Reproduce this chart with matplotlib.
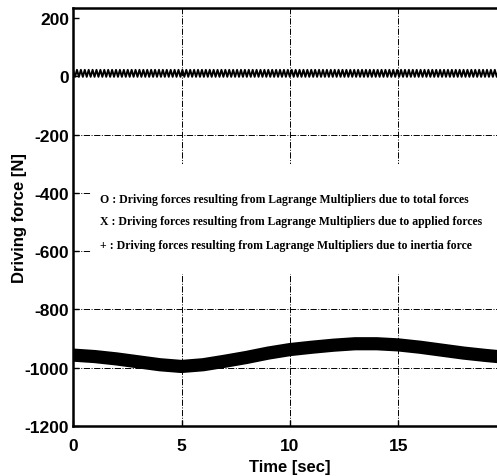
import numpy as np
import matplotlib
matplotlib.use("Agg")
import matplotlib.pyplot as plt
from matplotlib.patches import Rectangle

plt.rcParams["axes.unicode_minus"] = False

# data
time_s = [0, 1, 2, 3, 4, 5, 6, 7, 8, 9, 10, 11, 12, 13, 14, 15, 16, 17, 18, 19, 20]
force_total = [-957, -962, -970, -980, -990, -996, -990, -978, -965, -950, -938,
               -930, -923, -918, -918, -922, -930, -940, -950, -958, -965]

# small ripple around zero (peak / trough of each half period)
ripple_hi = 22
ripple_lo = -2
ripple_step = 0.09

x_ticks = [0, 5, 10, 15]
y_ticks = [200, 0, -200, -400, -600, -800, -1000, -1200]
grid_x = [5, 10, 15]
grid_y = [-200, -400, -600, -800, -1000]

legend_lines = [
    "O : Driving forces resulting from Lagrange Multipliers due to total forces",
    "X : Driving forces resulting from Lagrange Multipliers due to applied forces",
    "+ : Driving forces resulting from Lagrange Multipliers due to inertia force",
]
legend_y = [-420, -498, -580]


def main():
    fig = plt.figure(figsize=(4.97, 4.77), dpi=100)
    ax = fig.add_axes([0.147, 0.105, 0.873, 0.876])

    for g in grid_x:
        ax.axvline(g, color="black", lw=0.7, ls="-.", zorder=1)
    for g in grid_y:
        ax.axhline(g, color="black", lw=0.7, ls="-.", zorder=1)

    # white area behind the notes hides the grid there
    ax.add_patch(Rectangle((0.85, -680), 20, 380, facecolor="white",
                           edgecolor="none", zorder=2))

    t_r = np.arange(0, 20 + ripple_step, ripple_step)
    vals = np.resize([ripple_hi, ripple_lo], len(t_r))
    ax.plot(t_r, vals, color="black", lw=1.4, zorder=3)

    ax.plot(time_s, force_total, color="black", lw=9.5,
            solid_capstyle="butt", zorder=3)

    for txt, yy in zip(legend_lines, legend_y):
        ax.text(1.25, yy, txt, fontsize=8.5, fontweight="bold",
                family="Liberation Serif", va="center", ha="left", zorder=4)

    ax.set_xlim(0, 20)
    ax.set_ylim(-1200, 234)
    ax.set_xticks(x_ticks)
    ax.set_yticks(y_ticks)
    ax.tick_params(direction="in", length=4, width=1, labelsize=12.5)
    ax.tick_params(axis="x", pad=9)
    ax.tick_params(axis="y", pad=3)
    for lab in ax.get_xticklabels() + ax.get_yticklabels():
        lab.set_fontweight("bold")
        lab.set_family("Liberation Sans")
    ax.set_xlabel("Time [sec]", fontsize=12, fontweight="bold",
                  family="Liberation Sans", labelpad=4)
    ax.set_ylabel("Driving force [N]", fontsize=12, fontweight="bold",
                  family="Liberation Sans", labelpad=-2)
    for s in ["left", "bottom", "top"]:
        ax.spines[s].set_linewidth(1.8)
    ax.spines["right"].set_visible(False)

    fig.savefig("out.png", dpi=100)


if __name__ == "__main__":
    main()
